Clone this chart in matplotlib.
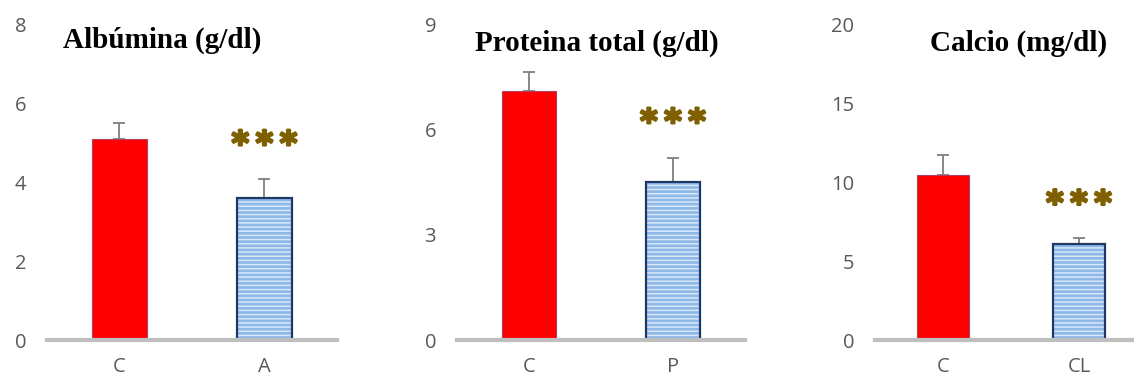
import matplotlib
matplotlib.use("Agg")
import matplotlib.pyplot as plt
import matplotlib.patheffects as pe
import numpy as np

# data
titles = ["Albúmina (g/dl)", "Proteina total (g/dl)", "Calcio (mg/dl)"]
categories = [["C", "A"], ["C", "P"], ["C", "CL"]]
albumina = [5.1, 3.6]
albumina_err = [0.4, 0.5]
proteina = [7.1, 4.5]
proteina_err = [0.55, 0.7]
calcio = [10.5, 6.1]
calcio_err = [1.25, 0.4]
y_max = [8, 9, 20]
y_step = [2, 3, 5]
star_y = [4.95, 6.2, 8.6]

means = [albumina, proteina, calcio]
errors = [albumina_err, proteina_err, calcio_err]

W, H = 1134, 378
# axes boxes in pixels: left, right
boxes = [(47, 337), (457, 745), (875, 1147)]
title_pos = [(0.397, 0.952), (0.486, 0.943), (0.526, 0.943)]
bottom_px, top_px = 340, 25

RED = "#FF0000"
BLUE_FACE = "#8DB8E8"
BLUE_HATCH = "#D8E8F8"
NAVY = "#1F3864"
GREY_TXT = "#595959"
STAR = "#7F6000"

plt.rcParams["hatch.linewidth"] = 1.1

fig = plt.figure(figsize=(W / 100, H / 100), dpi=100)

for i in range(3):
    left, right = boxes[i]
    ax = fig.add_axes([left / W, 1 - bottom_px / H, (right - left) / W, (bottom_px - top_px) / H])
    x = np.arange(2)
    width = 0.38

    ax.bar(x[0], means[i][0], width, color=RED, edgecolor="#B04060", linewidth=0.8, zorder=2)
    # striped bar: hatch drawn with edgecolor, outline drawn on top
    ax.bar(x[1], means[i][1], width, color=BLUE_FACE, edgecolor=BLUE_HATCH,
           hatch="----", linewidth=0, zorder=2)
    ax.bar(x[1], means[i][1], width, fill=False, edgecolor=NAVY, linewidth=1.6, zorder=3)

    ax.errorbar(x, means[i], yerr=[[0, 0], errors[i]], fmt="none", ecolor="#7F7F7F",
                elinewidth=1.3, capsize=4.5, capthick=1.3, zorder=1)

    ax.text(x[1], star_y[i], "*\u2009*\u2009*", ha="center", va="center", fontsize=24,
            fontweight="bold", color=STAR, family="DejaVu Sans",
            path_effects=[pe.withStroke(linewidth=1.8, foreground=STAR)])

    ax.text(title_pos[i][0], title_pos[i][1], titles[i], transform=ax.transAxes,
            ha="center", va="center", fontsize=21, fontweight="bold",
            family="Liberation Serif", color="black")

    ax.set_xlim(-0.5, 1.5)
    ax.set_ylim(0, y_max[i])
    ax.set_yticks(np.arange(0, y_max[i] + 0.01, y_step[i]))
    ax.set_xticks(x)
    ax.set_xticklabels(categories[i])
    ax.tick_params(axis="y", length=0, pad=15, labelsize=14.5, labelcolor=GREY_TXT)
    ax.tick_params(axis="x", length=0, pad=12, labelsize=14.5, labelcolor=GREY_TXT)
    for lab in ax.get_xticklabels() + ax.get_yticklabels():
        lab.set_family("Open Sans")

    for side in ["top", "right", "left"]:
        ax.spines[side].set_visible(False)
    ax.spines["bottom"].set_color("#BFBFBF")
    ax.spines["bottom"].set_linewidth(3)
    ax.spines["bottom"].set_zorder(4)
    ax.set_facecolor("none")

fig.savefig("out.png", dpi=100)
